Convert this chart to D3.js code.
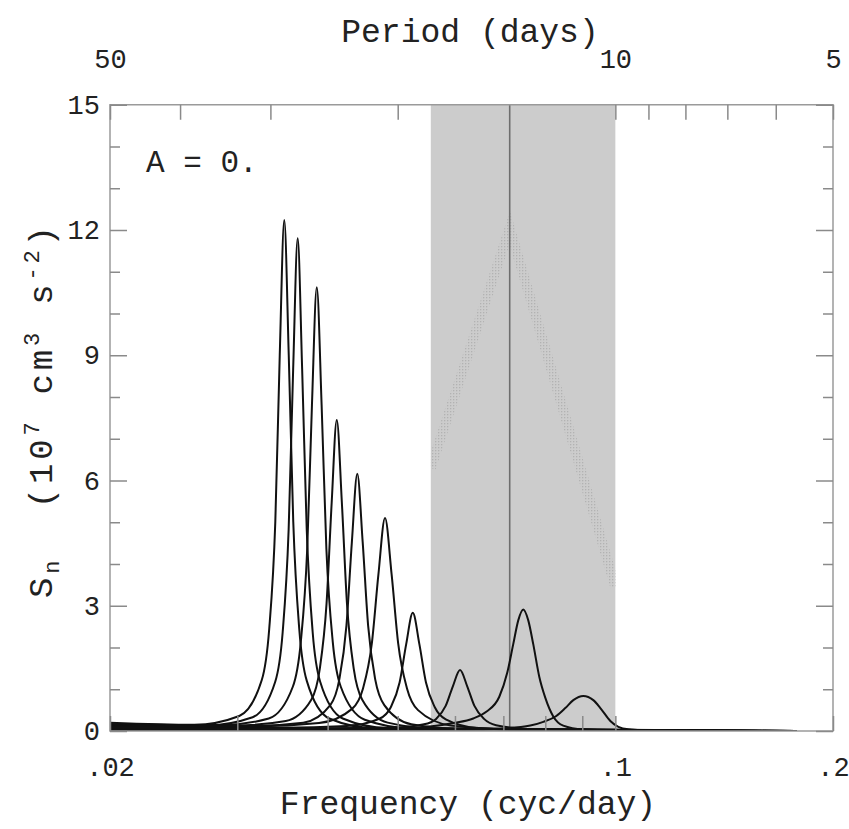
<!DOCTYPE html>
<html><head><meta charset="utf-8">
<script src="https://cdn.jsdelivr.net/npm/d3@7"></script>
<style>
html,body{margin:0;padding:0;background:#fff;}
text{font-family:"Liberation Mono","DejaVu Sans Mono",monospace;fill:#222;}
</style></head>
<body><svg id="c" width="849" height="829"></svg>
<script>
// ---- data ----
const freqLabelTicks = [0.02, 0.1, 0.2];
const freqLabels = [".02", ".1", ".2"];
const freqMinorTicks = [0.03, 0.04, 0.05, 0.06, 0.07, 0.08, 0.09];
const periodLabelTicks = [50, 10, 5];
const periodMinorTicks = [40, 30, 20, 9, 8, 7, 6];
const yMajorTicks = [0, 3, 6, 9, 12, 15];
const yMinorTicks = [1, 2, 4, 5, 7, 8, 10, 11, 13, 14];
const bandPeriods = [18, 10];
const markPeriod = 14;
const envelope = [[1/18, 6.3], [1/14, 12.05], [0.1, 3.45]];
const annotation = "A = 0.";

const curve1 = [[0.02,0.2],[0.02616,0.15],[0.03019,0.36],[0.03243,1.22],[0.03321,2.45],[0.03386,5.02],[0.03434,9.0],[0.03484,12.24],[0.03534,9.0],[0.03585,5.02],[0.03654,2.45],[0.03743,1.2],[0.04021,0.3],[0.04641,0.07],[0.178,0]];
const curve2 = [[0.02,0.17],[0.0273,0.14],[0.0315,0.33],[0.03385,1.18],[0.03466,2.36],[0.03533,4.84],[0.03584,8.67],[0.03636,11.8],[0.03688,8.67],[0.03742,4.84],[0.03814,2.36],[0.03906,1.18],[0.04197,0.3],[0.04843,0.07],[0.178,0]];
const curve3 = [[0.02,0.14],[0.02846,0.14],[0.03316,0.3],[0.0358,1.06],[0.03672,2.13],[0.03748,4.36],[0.03805,7.81],[0.03864,10.63],[0.03924,7.81],[0.03984,4.36],[0.04066,2.13],[0.04171,1.06],[0.04502,0.27],[0.05246,0.06],[0.178,0]];
const curve4 = [[0.02,0.12],[0.02976,0.13],[0.03501,0.24],[0.03797,0.75],[0.03901,1.49],[0.03986,3.05],[0.04052,5.48],[0.04118,7.45],[0.04185,5.48],[0.04254,3.05],[0.04347,1.49],[0.04466,0.75],[0.04844,0.2],[0.05699,0.05],[0.178,0]];
const curve5 = [[0.02,0.11],[0.03116,0.12],[0.03701,0.2],[0.04034,0.62],[0.04151,1.23],[0.04247,2.53],[0.04321,4.53],[0.04396,6.16],[0.04472,4.53],[0.0455,2.53],[0.04655,1.23],[0.04791,0.62],[0.05221,0.16],[0.06201,0.04],[0.178,0]];
const curve6 = [[0.02,0.1],[0.03154,0.11],[0.03892,0.19],[0.04323,0.53],[0.04477,1.02],[0.04604,2.09],[0.04702,3.75],[0.04802,5.1],[0.04904,3.75],[0.05008,2.09],[0.0515,1.02],[0.05334,0.5],[0.05925,0.13],[0.07311,0.03],[0.178,0]];
const curve7 = [[0.02,0.08],[0.03445,0.08],[0.04251,0.12],[0.04723,0.3],[0.04891,0.57],[0.0503,1.16],[0.05137,2.08],[0.05246,2.83],[0.05357,2.08],[0.05471,1.16],[0.05627,0.57],[0.05827,0.28],[0.06473,0.07],[0.07987,0.02],[0.178,0]];
const curve8 = [[0.02,0.05],[0.03855,0.05],[0.04848,0.07],[0.05437,0.16],[0.0565,0.29],[0.05825,0.6],[0.0596,1.07],[0.06098,1.46],[0.06239,1.07],[0.06384,0.6],[0.06582,0.29],[0.06839,0.14],[0.0767,0.04],[0.09646,0.01],[0.178,0]];
const curve9 = [[0.02,0.04],[0.05254,0.08],[0.05968,0.19],[0.0636,0.3],[0.06629,0.46],[0.0691,0.82],[0.07088,1.4],[0.07224,2.08],[0.0734,2.65],[0.07458,2.91],[0.07578,2.65],[0.07699,2.08],[0.07848,1.3],[0.07999,0.8],[0.08206,0.35],[0.08471,0.13],[0.0903,0.04],[0.10255,0.01],[0.178,0]];
const curve10 = [[0.02,0.02],[0.06161,0.03],[0.06998,0.06],[0.07627,0.13],[0.0795,0.22],[0.08286,0.36],[0.08527,0.55],[0.08747,0.74],[0.0903,0.84],[0.09322,0.74],[0.09563,0.52],[0.09841,0.24],[0.10095,0.1],[0.10423,0.04],[0.11285,0.01],[0.178,0]];
const curves = [curve1, curve2, curve3, curve4, curve5, curve6, curve7, curve8, curve9, curve10];

// ---- layout ----
const L = 110, R = 833, T = 104.75, B = 731;
const svg = d3.select("#c");
svg.append("rect").attr("width", 849).attr("height", 829).attr("fill", "#fff");

const x = d3.scaleLog().domain([0.02, 0.2]).range([L, R]);
const xp = d3.scaleLog().domain([50, 5]).range([L, R]);
const y = d3.scaleLinear().domain([0, 15]).range([B, T]);

const defs = svg.append("defs");
defs.append("clipPath").attr("id", "plotclip").append("rect")
  .attr("x", L).attr("y", T).attr("width", R - L).attr("height", B - T);
defs.append("clipPath").attr("id", "bandclip").append("rect")
  .attr("x", xp(bandPeriods[0])).attr("y", T)
  .attr("width", xp(bandPeriods[1]) - xp(bandPeriods[0])).attr("height", B - T);
const pat = defs.append("pattern").attr("id", "dots").attr("patternUnits", "userSpaceOnUse")
  .attr("width", 3).attr("height", 3);
pat.append("rect").attr("width", 1.3).attr("height", 1.3).attr("fill", "#b2b2b2");

// shaded band
svg.append("rect")
  .attr("x", xp(bandPeriods[0])).attr("y", T)
  .attr("width", xp(bandPeriods[1]) - xp(bandPeriods[0])).attr("height", B - T)
  .attr("fill", "#cccccc");

// dotted envelope
svg.append("path")
  .datum(envelope)
  .attr("clip-path", "url(#bandclip)")
  .attr("d", d3.line().x(d => x(d[0])).y(d => y(d[1])))
  .attr("fill", "none").attr("stroke", "url(#dots)").attr("stroke-width", 10);

// mark line
svg.append("line")
  .attr("x1", xp(markPeriod)).attr("x2", xp(markPeriod))
  .attr("y1", T).attr("y2", B)
  .attr("stroke", "#6e6e6e").attr("stroke-width", 1.6);

// curves
const line = d3.line().x(d => x(d[0])).y(d => y(d[1])).curve(d3.curveMonotoneX);
svg.append("g").attr("clip-path", "url(#plotclip)")
  .selectAll("path").data(curves).join("path")
  .attr("d", line)
  .attr("fill", "none").attr("stroke", "#111").attr("stroke-width", 2);

// frame
svg.append("rect").attr("x", L).attr("y", T).attr("width", R - L).attr("height", B - T)
  .attr("fill", "none").attr("stroke", "#9a9a9a").attr("stroke-width", 1.5);

function styleAxis(g) {
  g.select(".domain").remove();
  g.selectAll(".tick line").attr("stroke", "#8a8a8a").attr("stroke-width", 1.5);
  g.selectAll(".tick text").attr("font-size", 27).attr("fill", "#222")
    .attr("font-family", '"Liberation Mono","DejaVu Sans Mono",monospace');
}

// left axis
svg.append("g").attr("transform", `translate(${L},0)`)
  .call(d3.axisLeft(y).tickValues(yMajorTicks).tickSize(-17).tickPadding(10).tickFormat(d3.format("d")))
  .call(styleAxis);
svg.append("g").attr("transform", `translate(${L},0)`)
  .call(d3.axisLeft(y).tickValues(yMinorTicks).tickSize(-10).tickFormat(""))
  .call(styleAxis);
// right axis
svg.append("g").attr("transform", `translate(${R},0)`)
  .call(d3.axisRight(y).tickValues(yMajorTicks).tickSize(-17).tickFormat(""))
  .call(styleAxis);
svg.append("g").attr("transform", `translate(${R},0)`)
  .call(d3.axisRight(y).tickValues(yMinorTicks).tickSize(-10).tickFormat(""))
  .call(styleAxis);
// bottom axis
svg.append("g").attr("transform", `translate(0,${B})`)
  .call(d3.axisBottom(x).tickValues(freqLabelTicks).tickSize(-15).tickPadding(26)
    .tickFormat((d, i) => freqLabels[i]))
  .call(styleAxis)
  .selectAll(".tick text").attr("dy", "0.72em");
svg.append("g").attr("transform", `translate(0,${B})`)
  .call(d3.axisBottom(x).tickValues(freqMinorTicks).tickSize(-15).tickFormat(""))
  .call(styleAxis);
// top axis
svg.append("g").attr("transform", `translate(0,${T})`)
  .call(d3.axisTop(xp).tickValues(periodLabelTicks).tickSize(-15).tickPadding(37).tickFormat(d3.format("d")))
  .call(styleAxis);
svg.append("g").attr("transform", `translate(0,${T})`)
  .call(d3.axisTop(xp).tickValues(periodMinorTicks).tickSize(-15).tickFormat(""))
  .call(styleAxis);

// titles
svg.append("text").attr("x", 470).attr("y", 42).attr("text-anchor", "middle")
  .attr("font-size", 33).text("Period (days)");
svg.append("text").attr("x", 468).attr("y", 814).attr("text-anchor", "middle")
  .attr("font-size", 33).text("Frequency (cyc/day)");
svg.append("text").attr("x", 146).attr("y", 172).attr("font-size", 31).text(annotation);

// y label
const yl = svg.append("text").attr("transform", "translate(52,412) rotate(-90)")
  .attr("text-anchor", "middle").attr("font-size", 34)
  .attr("textLength", 372).attr("lengthAdjust", "spacing");
yl.append("tspan").text("S");
yl.append("tspan").attr("font-size", 22).attr("dy", 7).text("n");
yl.append("tspan").attr("dy", -7).text("\u00a0 (10");
yl.append("tspan").attr("font-size", 22).attr("dy", -13).text("7");
yl.append("tspan").attr("dy", 13).text(" cm");
yl.append("tspan").attr("font-size", 22).attr("dy", -13).text("3");
yl.append("tspan").attr("dy", 13).text(" s");
yl.append("tspan").attr("font-size", 22).attr("dy", -13).text("-2");
yl.append("tspan").attr("dy", 13).text(")");
</script></body></html>
